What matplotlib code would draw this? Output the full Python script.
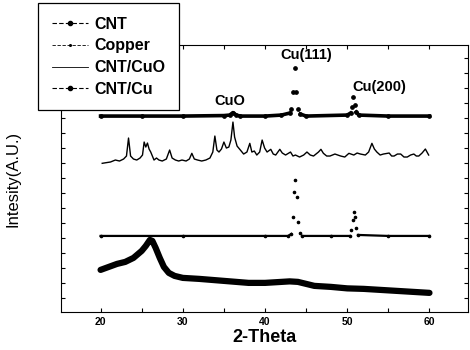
import matplotlib
matplotlib.use("Agg")
from matplotlib import pyplot as plt
from matplotlib.lines import Line2D
from matplotlib.ticker import MultipleLocator, FixedLocator
import numpy as np

plt.rcParams['font.family'] = ['Liberation Sans', 'DejaVu Sans']

# intensities are arbitrary units (stacked curves)
cnt_x = [20, 21, 22, 23, 24, 25, 25.5, 26, 26.3, 26.7, 27.2, 27.7, 28.3, 29, 30, 32,
         35, 38, 40, 42, 43, 44, 45, 46, 48, 50, 52, 55, 58, 60]
cnt_y = [42, 45, 48, 50, 54, 61, 66, 72, 71, 64, 54, 45, 39, 36, 34, 33,
         31, 29, 29, 30, 30.5, 30, 28, 26, 25, 23.5, 23, 21.5, 20, 19]

cu_x = [20, 30, 40, 42.8, 43.2, 43.4, 43.55, 43.7, 43.85, 44.0, 44.2, 44.5, 48,
        50.3, 50.5, 50.65, 50.8, 50.95, 51.1, 51.3, 55, 60]
cu_y = [76, 76, 76, 76, 78, 95, 120, 132, 115, 90, 79, 76, 76,
        76, 82, 92, 100, 95, 84, 77, 76, 76]

cuo_x = [20.2, 20.8, 21.2, 21.8, 22.3, 22.8, 23.15, 23.4, 23.65, 24.0, 24.4, 24.8,
         25.1, 25.3, 25.5, 25.7, 25.9, 26.1, 26.5, 26.8, 27.1, 27.5, 28.0, 28.4, 28.7,
         29.1, 29.5, 29.9, 30.4, 30.8, 31.1, 31.4, 31.8, 32.3, 32.8, 33.3, 33.65, 33.9,
         34.15, 34.4, 34.7, 35.0, 35.3, 35.6, 35.85, 36.1, 36.3, 36.6, 37.0, 37.4, 37.8,
         38.15, 38.4, 38.7, 39.0, 39.35, 39.65, 39.95, 40.25, 40.7, 41.0, 41.3, 41.8,
         42.1, 42.5, 43.1, 43.4, 43.7, 44.2, 44.7, 45.1, 45.5, 45.9, 46.5, 46.8, 47.1,
         47.5, 47.9, 48.5, 49.2, 49.7, 50.2, 50.8, 51.2, 51.6, 52.2, 52.6, 53.0, 53.3,
         53.6, 54.0, 54.4, 55.1, 55.4, 55.7, 56.1, 56.5, 56.9, 57.3, 57.7, 58.1, 58.4,
         58.7, 59.1, 59.5, 59.9]
cuo_y = [148.7, 149.5, 150, 152, 151, 153, 156, 174, 156, 153, 152, 154,
         157, 170, 165, 169, 163, 160, 152, 154, 152, 151, 153, 162, 154,
         152, 151, 152, 151, 153, 158.7, 153, 152, 151, 152, 154, 160, 176,
         162, 160, 163, 170, 164, 165, 172, 190, 175, 166, 162, 158, 160,
         168.7, 160, 161, 157, 160, 172, 164, 160, 162.7, 158, 157, 162.7,
         159, 157, 160, 156, 157, 155, 157, 160, 157, 156, 160, 162.7, 158.7,
         156, 156, 158, 156, 155, 158.7, 157, 159, 158, 157, 160, 168.7, 163,
         160, 157, 158, 159, 156, 156, 158, 158, 155, 155, 157, 158, 156,
         156, 159, 163, 157]

cntcu_x = [20, 25, 30, 35, 35.7, 36.1, 36.5, 37, 40, 42, 43, 43.2, 43.45, 43.6, 43.8,
           44.0, 44.3, 45, 50, 50.4, 50.6, 50.75, 50.9, 51.1, 51.4, 55, 60]
cntcu_y = [196, 196, 196, 196.5, 197, 199.5, 197, 196, 196, 197, 199, 203, 220, 244, 220,
           203, 198, 196, 197, 199, 205, 215, 207, 200, 197, 196, 196]

labels = ['CNT', 'Copper', 'CNT/CuO', 'CNT/Cu']

fig = plt.figure(figsize=(4.7, 3.5), dpi=100)
ax = fig.add_axes([0.13, 0.109, 0.866, 0.762])

ax.plot(cnt_x, cnt_y, color='black', lw=4.5, solid_capstyle='round')

# peaks of the copper-bearing curves show up as sparse dots, so the line skips them
cu_line = np.ma.masked_where(np.array(cu_y) > 78, cu_y)
ax.plot(cu_x, cu_line, color='black', lw=1.6)
ax.plot(cu_x, cu_y, color='black', ls='none', marker='o', ms=1.6)

ax.plot(cuo_x, cuo_y, color='black', lw=1.0)

cntcu_line = np.ma.masked_where(np.array(cntcu_y) > 200, cntcu_y)
ax.plot(cntcu_x, cntcu_line, color='black', lw=2.6)
ax.plot(cntcu_x, cntcu_y, color='black', ls='none', marker='o', ms=2.4)

ax.set_xlim(15.2, 64.7)
ax.set_ylim(0, 267)
ax.xaxis.set_major_locator(MultipleLocator(10))
ax.xaxis.set_minor_locator(MultipleLocator(5))
ax.yaxis.set_major_locator(FixedLocator(list(range(14, 267, 15))))
ax.set_yticklabels([])
ax.tick_params(direction='in', top=True, right=True, which='both', length=3, width=0.8)
ax.tick_params(axis='x', which='major', labelsize=7.5, pad=4)
for t in ax.get_xticklabels():
    t.set_fontweight('bold')

ax.set_xlabel('2-Theta', fontsize=13, fontweight='bold', labelpad=1)
ax.set_ylabel('Intesity(A.U.)', fontsize=12, labelpad=26)

ax.text(45.0, 257, 'Cu(111)', fontsize=10.5, fontweight='bold', ha='center', va='center')
ax.text(53.9, 225, 'Cu(200)', fontsize=10.5, fontweight='bold', ha='center', va='center')
ax.text(35.7, 211, 'CuO', fontsize=10.5, fontweight='bold', ha='center', va='center')

handles = [
    Line2D([], [], color='black', lw=0.8, ls=(0, (4, 2)), marker='o', ms=3),
    Line2D([], [], color='black', lw=0.6, ls=(0, (4, 2)), marker='o', ms=1.2),
    Line2D([], [], color='black', lw=0.6),
    Line2D([], [], color='black', lw=0.8, ls=(0, (4, 2)), marker='o', ms=3),
]
leg = fig.legend(handles, labels, loc='upper left', bbox_to_anchor=(0.081, 0.991),
                 prop={'weight': 'bold', 'size': 11.5}, frameon=True, fancybox=False,
                 framealpha=1, edgecolor='black', handlelength=2.25, labelspacing=0.42,
                 borderpad=0.85, handletextpad=0.45, borderaxespad=0)
leg.get_frame().set_linewidth(0.9)
leg.set_zorder(10)

fig.savefig('out.png', dpi=100)
